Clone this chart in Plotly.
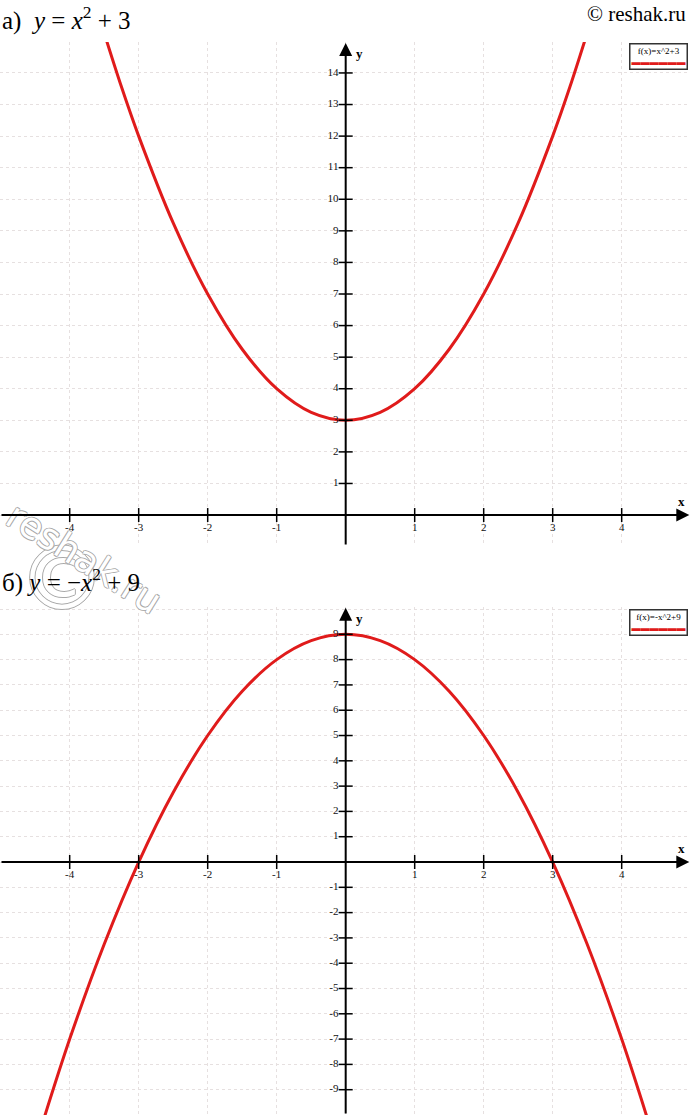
import plotly.graph_objects as go

# ---- data ----
xa = [-3.6, -3.25, -3.0, -2.5, -2.0, -1.5, -1.0, -0.5, 0.0, 0.5, 1.0, 1.5, 2.0, 2.5, 3.0, 3.25, 3.6]
ya = [15.96, 13.56, 12.0, 9.25, 7.0, 5.25, 4.0, 3.25, 3.0, 3.25, 4.0, 5.25, 7.0, 9.25, 12.0, 13.56, 15.96]

xb = [-4.5, -4.0, -3.5, -3.0, -2.5, -2.0, -1.5, -1.0, -0.5, 0.0, 0.5, 1.0, 1.5, 2.0, 2.5, 3.0, 3.5, 4.0, 4.5]
yb = [-11.25, -7.0, -3.25, 0.0, 2.75, 5.0, 6.75, 8.0, 8.75, 9.0, 8.75, 8.0, 6.75, 5.0, 2.75, 0.0, -3.25, -7.0, -11.25]

xticks_a = [-4, -3, -2, -1, 1, 2, 3, 4]
yticks_a = [1, 2, 3, 4, 5, 6, 7, 8, 9, 10, 11, 12, 13, 14]
xticks_b = [-4, -3, -2, -1, 1, 2, 3, 4]
yticks_b = [-9, -8, -7, -6, -5, -4, -3, -2, -1, 1, 2, 3, 4, 5, 6, 7, 8, 9]

legend_a = "f(x)=x^2+3"
legend_b = "f(x)=-x^2+9"
title_a = "а)  <i>y</i> = <i>x</i><sup>2</sup> + 3"
title_b = "б) <i>y</i> = −<i>x</i><sup>2</sup> + 9"

# ---- style ----
RED = "#e01b1b"
SERIF = "Liberation Serif, Times New Roman, serif"
GRID = "#e6e0e0"
W, H = 690, 1115

xrange_ = [-5.01, 4.99]
yrange_a = [-0.98, 14.98]
yrange_b = [-10.0, 10.08]
dom_a = [1 - 546 / H, 1 - 42 / H]
dom_b = [0.0, 1 - 607 / H]

fig = go.Figure()

def add_panel(xs, ys, xt, yt, xref, yref):
    fig.add_trace(go.Scatter(x=xs, y=ys, mode="lines", line=dict(color=RED, width=3, shape="spline"),
                             xaxis=xref, yaxis=yref, showlegend=False, hoverinfo="skip"))
    fig.add_trace(go.Scatter(x=xt, y=[0] * len(xt), mode="markers+text",
                             marker=dict(symbol="line-ns", size=10, line=dict(color="black", width=1.5)),
                             text=[str(v) for v in xt], textposition="bottom center",
                             textfont=dict(family=SERIF, size=11, color="#111"),
                             cliponaxis=False, xaxis=xref, yaxis=yref, showlegend=False, hoverinfo="skip"))
    fig.add_trace(go.Scatter(x=[0] * len(yt), y=yt, mode="markers+text",
                             marker=dict(symbol="line-ew", size=10, line=dict(color="black", width=1.5)),
                             text=[str(v) for v in yt], textposition="middle left",
                             textfont=dict(family=SERIF, size=11, color="#111"),
                             cliponaxis=False, xaxis=xref, yaxis=yref, showlegend=False, hoverinfo="skip"))

add_panel(xa, ya, xticks_a, yticks_a, "x", "y")
add_panel(xb, yb, xticks_b, yticks_b, "x2", "y2")

axcommon = dict(showgrid=True, gridcolor=GRID, griddash="dot", gridwidth=1, dtick=1,
                showticklabels=False, zeroline=False, showline=False, ticks="", fixedrange=True)

fig.update_layout(
    width=W, height=H, margin=dict(l=0, r=0, t=0, b=0),
    paper_bgcolor="white", plot_bgcolor="white", showlegend=False,
    xaxis=dict(domain=[0, 1], range=xrange_, anchor="y", **axcommon),
    yaxis=dict(domain=dom_a, range=yrange_a, anchor="x", **axcommon),
    xaxis2=dict(domain=[0, 1], range=xrange_, anchor="y2", **axcommon),
    yaxis2=dict(domain=dom_b, range=yrange_b, anchor="x2", **axcommon),
)

ann = []
# watermark (drawn first, under everything else)
wm_shadow = "1px 0 0 #a8a8a8, -1px 0 0 #a8a8a8, 0 1px 0 #a8a8a8, 0 -1px 0 #a8a8a8"
ann.append(dict(x=62 / W, y=1 - 578 / H, xref="paper", yref="paper", text="©", showarrow=False,
                xanchor="center", yanchor="middle",
                font=dict(family="DejaVu Sans", size=88, color="white", shadow=wm_shadow)))
ann.append(dict(x=84 / W, y=1 - 558 / H, xref="paper", yref="paper", text="reshak.ru", showarrow=False,
                xanchor="center", yanchor="middle", textangle=32,
                font=dict(family="DejaVu Sans", size=37, color="white", shadow=wm_shadow)))

# axis arrows
for xr, yr, yrg in [("x", "y", yrange_a), ("x2", "y2", yrange_b)]:
    ann.append(dict(x=xrange_[1] - 0.01, y=0, ax=xrange_[0], ay=0, xref=xr, yref=yr, axref=xr, ayref=yr,
                    showarrow=True, arrowhead=2, arrowsize=1.3, arrowwidth=2, arrowcolor="black", text=""))
    ann.append(dict(x=0, y=yrg[1] - 0.03, ax=0, ay=yrg[0], xref=xr, yref=yr, axref=xr, ayref=yr,
                    showarrow=True, arrowhead=2, arrowsize=1.3, arrowwidth=2, arrowcolor="black", text=""))
    ann.append(dict(x=xrange_[1] - 0.05, y=0, xref=xr, yref=yr, text="<b>x</b>", showarrow=False,
                    xanchor="right", yanchor="bottom", yshift=4, font=dict(family=SERIF, size=13, color="black")))
    ann.append(dict(x=0, y=yrg[1], xref=xr, yref=yr, text="<b>y</b>", showarrow=False,
                    xanchor="left", yanchor="top", xshift=8, yshift=-2, font=dict(family=SERIF, size=13, color="black")))

# legend boxes
line_str = "<span style='color:%s'>▬▬▬▬▬▬</span>" % RED
ann.append(dict(x=0.997, y=dom_a[1] - 0.001, xref="paper", yref="paper", xanchor="right", yanchor="top",
                text=legend_a + "<br>" + line_str, showarrow=False, align="center",
                font=dict(family=SERIF, size=9, color="black"), bgcolor="white",
                bordercolor="#333", borderwidth=1.5, borderpad=1))
ann.append(dict(x=0.997, y=dom_b[1] - 0.002, xref="paper", yref="paper", xanchor="right", yanchor="top",
                text=legend_b + "<br>" + line_str, showarrow=False, align="center",
                font=dict(family=SERIF, size=9, color="black"), bgcolor="white",
                bordercolor="#333", borderwidth=1.5, borderpad=1))

# titles
ann.append(dict(x=0.0, y=1 - 0 / H, xref="paper", yref="paper", xanchor="left", yanchor="top",
                text=title_a, showarrow=False, font=dict(family=SERIF, size=25, color="black")))
ann.append(dict(x=0.0, y=1 - 562 / H, xref="paper", yref="paper", xanchor="left", yanchor="top",
                text=title_b, showarrow=False, font=dict(family=SERIF, size=25, color="black")))
ann.append(dict(x=0.997, y=1 - 0 / H, xref="paper", yref="paper", xanchor="right", yanchor="top",
                text="© reshak.ru", showarrow=False, font=dict(family=SERIF, size=21, color="black")))

fig.update_layout(annotations=ann)
fig.write_html("out.html", config={"displayModeBar": False},
               post_script="document.body.style.margin='0';document.body.style.padding='0';"
                           "document.documentElement.style.overflow='hidden';")
